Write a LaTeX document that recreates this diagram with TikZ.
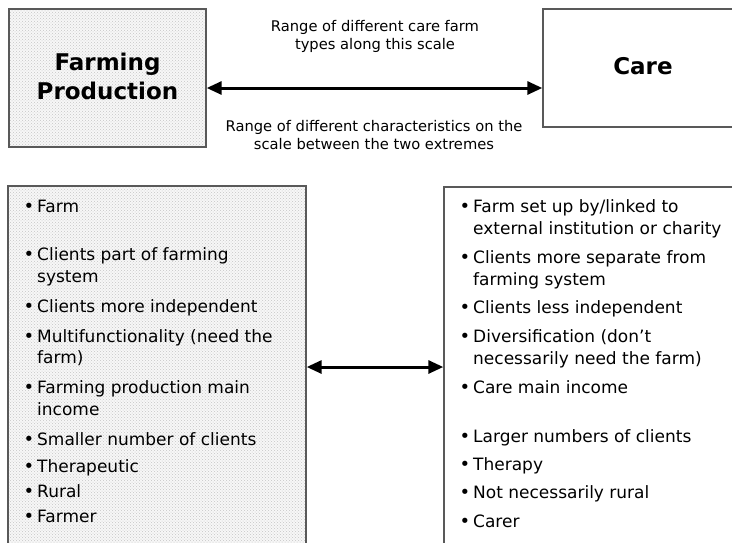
\documentclass[tikz,border=0pt]{standalone}
\usepackage{fontspec}
\setmainfont{DejaVu Sans}
\usetikzlibrary{arrows.meta,patterns}
\tikzset{
  box/.style={draw=black!65, line width=1.4pt, inner sep=0pt, rectangle},
  dotted box/.style={box, preaction={fill=gray!6}, pattern=crosshatch dots, pattern color=gray!45},
  head/.style={font=\fontsize{23}{29}\selectfont\bfseries, align=center},
  note/.style={font=\fontsize{14.7}{18}\selectfont, align=center, inner sep=0pt},
  itemtext/.style={font=\fontsize{17}{22}\selectfont, anchor=mid west, inner sep=0pt},
  bul/.style={font=\fontsize{18}{22}\selectfont, anchor=mid, inner sep=0pt},
  bigarrow/.style={line width=3pt, {Triangle[length=15pt,width=13pt]}-{Triangle[length=15pt,width=13pt]}}
}
\begin{document}
\begin{tikzpicture}[x=1pt,y=-1pt]
\useasboundingbox (0,0) rectangle (732,542);
\begin{scope}
\clip (0,0) rectangle (732,542);
% top boxes
\node[dotted box, minimum width=197pt, minimum height=138pt] (fp) at (107.5,78) {};
\node[head] (fptext) at (107.5,76) {Farming\\Production};
\node[box, minimum width=200pt, minimum height=118pt] (care) at (643,68) {};
\node[head] (caretext) at (643,66) {Care};
% notes
\node[note] (n1) at (375,36) {Range of different care farm\\types along this scale};
\node[note] (n2) at (374,135) {Range of different characteristics on the\\scale between the two extremes};
% top arrow
\coordinate (ya) at (0,88);
\draw[bigarrow] (fp.east |- ya) -- (care.west |- ya);
% bottom boxes
\node[dotted box, minimum width=298pt, minimum height=380pt] (lb) at (157,376) {};
\node[box, minimum width=316pt, minimum height=380pt] (rb) at (602,377) {};
\coordinate (yb) at (0,367);
\draw[bigarrow] (lb.east |- yb) -- (rb.west |- yb);
\end{scope}
% left items
\foreach \y [count=\i] in {210,258,310,340,391,443,470,495,520}
  \node[bul] (lbul\i) at (29,\y) {•};
\foreach \y/\t [count=\i] in {210/{Farm}, 258/{Clients part of farming}, 280/{system}, 310/{Clients more independent}, 340/{Multifunctionality (need the}, 361/{farm)}, 391/{Farming production main}, 413/{income}, 443/{Smaller number of clients}, 470/{Therapeutic}, 495/{Rural}, 520/{Farmer}}
  \node[itemtext] (lt\i) at (37,\y) {\t};
% right items
\foreach \y [count=\i] in {210,261,311,340,391,440,468,496,525}
  \node[bul] (rbul\i) at (465,\y) {•};
\foreach \y/\t [count=\i] in {210/{Farm set up by/linked to}, 232/{external institution or charity}, 261/{Clients more separate from}, 283/{farming system}, 311/{Clients less independent}, 340/{Diversification (don’t}, 362/{necessarily need the farm)}, 391/{Care main income}, 440/{Larger numbers of clients}, 468/{Therapy}, 496/{Not necessarily rural}, 525/{Carer}}
  \node[itemtext] (rt\i) at (473,\y) {\t};
\end{tikzpicture}
\end{document}
